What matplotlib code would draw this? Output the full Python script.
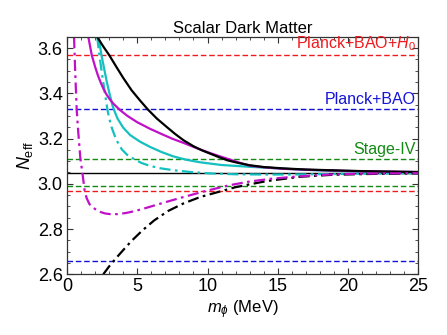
import matplotlib
matplotlib.use("Agg")
import matplotlib.pyplot as plt
from matplotlib.ticker import MultipleLocator

plt.rcParams['font.family'] = ['Liberation Sans', 'DejaVu Sans']
plt.rcParams['mathtext.fontset'] = 'custom'
plt.rcParams['mathtext.rm'] = 'Liberation Sans'
plt.rcParams['mathtext.it'] = 'Liberation Sans:italic'

# ---- data ----
black_m = [2.16, 2.6, 3.0, 3.5, 4.0, 4.6, 5.2, 5.76, 6.4, 7.1, 7.7, 8.3, 9.0, 9.6, 10.2,
           10.8, 11.4, 12.2, 13.0, 14.0, 15.4, 17.0, 18.7, 21.0, 25.0]
black_n = [3.648, 3.605, 3.569, 3.518, 3.468, 3.413, 3.368, 3.328, 3.288, 3.251, 3.220, 3.192,
           3.166, 3.148, 3.133, 3.118, 3.104, 3.092, 3.082, 3.074, 3.068, 3.063, 3.060, 3.056, 3.052]

mag_m = [1.52, 1.76, 2.0, 2.2, 2.4, 2.6, 2.8, 3.0, 3.3, 3.77, 4.3, 5.0, 5.91, 6.8, 7.5, 8.28,
         9.2, 10.18, 10.8, 11.4, 12.2, 13.0, 14.0, 15.4, 17.0, 18.7, 21.0, 25.0]
mag_n = [3.648, 3.569, 3.517, 3.479, 3.447, 3.419, 3.396, 3.377, 3.354, 3.326, 3.300, 3.272,
         3.243, 3.218, 3.199, 3.181, 3.158, 3.136, 3.123, 3.111, 3.095, 3.080, 3.073, 3.066,
         3.062, 3.059, 3.055, 3.052]

cyan_m = [2.25, 2.45, 2.8, 3.0, 3.25, 3.4, 3.6, 4.0, 4.5, 5.2, 5.91, 6.7, 7.57, 8.5, 9.47,
          11.0, 13.02, 16.58, 18.72, 22.0, 25.0]
cyan_n = [3.648, 3.569, 3.460, 3.405, 3.343, 3.318, 3.288, 3.248, 3.215, 3.186, 3.163, 3.141,
          3.121, 3.106, 3.095, 3.083, 3.075, 3.063, 3.057, 3.053, 3.051]

cyan_dd_m = [2.15, 2.30, 2.6, 2.87, 3.0, 3.2, 3.5, 3.9, 4.3, 4.84, 5.3, 5.91, 6.7, 7.57,
             8.8, 10.18, 12.0, 14.0, 16.0, 19.0, 22.0, 25.0]
cyan_dd_n = [3.648, 3.569, 3.440, 3.330, 3.290, 3.245, 3.195, 3.152, 3.127, 3.107, 3.092, 3.079,
             3.068, 3.060, 3.052, 3.046, 3.042, 3.041, 3.041, 3.043, 3.045, 3.046]

mag_dd_m = [0.50, 0.58, 0.69, 0.79, 0.95, 1.09, 1.25, 1.33, 1.41, 1.60, 1.85, 2.1, 2.4, 2.7,
            3.06, 3.6, 4.2, 4.8, 5.5, 6.8, 8.2, 9.8, 11.5, 13.0, 14.5, 16.5, 18.7, 21.0, 25.0]
mag_dd_n = [3.648, 3.500, 3.328, 3.237, 3.112, 3.051, 2.972, 2.950, 2.935, 2.910, 2.895, 2.884,
            2.875, 2.869, 2.866, 2.866, 2.871, 2.879, 2.891, 2.915, 2.940, 2.967, 2.993, 3.010,
            3.022, 3.033, 3.041, 3.045, 3.047]

black_dd_m = [2.58, 3.0, 3.5, 4.0, 4.6, 5.35, 6.2, 7.2, 8.28, 9.5, 10.89, 12.0, 12.79, 14.21,
              16.58, 18.93, 22.0, 25.0]
black_dd_n = [2.600, 2.635, 2.672, 2.707, 2.748, 2.793, 2.838, 2.880, 2.913, 2.942, 2.966, 2.985,
              2.995, 3.012, 3.031, 3.040, 3.044, 3.046]

planck_h0 = [3.57, 2.97]
planck_bao = [3.33, 2.66]
stage4 = [3.11, 2.99]
neff_sm = 3.046

# ---- plot ----
fig = plt.figure(figsize=(4.47, 3.35), dpi=100)
ax = fig.add_axes([0.1499, 0.1812, 0.9358 - 0.1499, 0.8904 - 0.1812])

red = '#f01a1e'
blue = '#1414d8'
green = '#138a13'
mag = '#c010c8'
cyan = '#14c0c0'
dd = (0, (5, 2, 1.2, 2))

for v in planck_h0:
    ax.axhline(v, color=red, lw=1.0, ls=(0, (4, 2)))
for v in planck_bao:
    ax.axhline(v, color=blue, lw=1.0, ls=(0, (4, 2)))
for v in stage4:
    ax.axhline(v, color=green, lw=1.0, ls=(0, (4, 2)))
ax.axhline(neff_sm, color='black', lw=1.0)

ax.plot(cyan_m, cyan_n, color=cyan, lw=1.6)
ax.plot(cyan_dd_m, cyan_dd_n, color=cyan, lw=1.6, ls=dd)
ax.plot(mag_m, mag_n, color=mag, lw=1.6)
ax.plot(black_m, black_n, color='black', lw=1.6)
ax.plot(black_dd_m, black_dd_n, color='black', lw=1.6, ls=dd)
ax.plot(mag_dd_m, mag_dd_n, color=mag, lw=1.6, ls=dd)

ax.text(24.8, 3.578, 'Planck+BAO+$H_0$', color=red, ha='right', va='bottom', fontsize=11.5)
ax.text(24.8, 3.338, 'Planck+BAO', color=blue, ha='right', va='bottom', fontsize=11.5)
ax.text(24.8, 3.118, 'Stage-IV', color=green, ha='right', va='bottom', fontsize=11.5)

ax.set_xlim(0, 25)
ax.set_ylim(2.6, 3.65)
ax.xaxis.set_major_locator(MultipleLocator(5))
ax.xaxis.set_minor_locator(MultipleLocator(1))
ax.yaxis.set_major_locator(MultipleLocator(0.2))
ax.yaxis.set_minor_locator(MultipleLocator(0.05))
ax.tick_params(which='both', direction='in', top=True, right=True, labelsize=13, color='#333333')
ax.tick_params(which='major', length=4.5, width=0.8, pad=3)
ax.tick_params(which='minor', length=2.5, width=0.6)
ax.set_yticks([2.6, 2.8, 3.0, 3.2, 3.4, 3.6])
ax.set_yticklabels(['2.6', '2.8', '3.0', '3.2', '3.4', '3.6'])
for s in ax.spines.values():
    s.set_linewidth(0.9)
    s.set_color('#333333')

ax.set_title('Scalar Dark Matter', fontsize=12, pad=3)
ax.set_xlabel(r'$m_\phi$ (MeV)', fontsize=12, labelpad=2)
ax.set_ylabel(r'$N_{\rm eff}$', fontsize=13, labelpad=2)

fig.savefig('out.png', dpi=100)
